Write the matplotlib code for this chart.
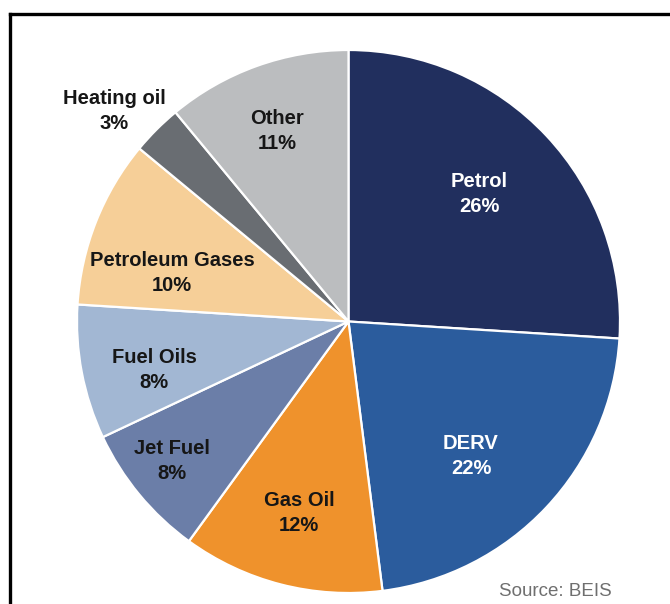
import matplotlib
matplotlib.use("Agg")
import matplotlib.pyplot as plt
from matplotlib.lines import Line2D

# Share of UK oil product demand by product (%)
categories = ["Petrol", "DERV", "Gas Oil", "Jet Fuel", "Fuel Oils",
              "Petroleum Gases", "Heating oil", "Other"]
shares = [26, 22, 12, 8, 8, 10, 3, 11]
colors = ["#212f5e", "#2b5c9d", "#ef922c", "#6b7ea8", "#a2b7d3",
          "#f6cf98", "#696d72", "#bbbdbf"]
text_colors = ["white", "white", "#161616", "#161616", "#161616",
               "#161616", "#161616", "#161616"]
# label centres in pixel coordinates (x from left, y from top)
label_xy = [(479, 194), (471, 456), (299, 513), (172, 461), (154, 370),
            (172, 273), (114, 111), (277, 131)]

W, H = 670, 604
fig = plt.figure(figsize=(W / 100, H / 100), dpi=100)
fig.patch.set_facecolor("white")
ax = fig.add_axes([0, 0, 1, 1])

cx, cy, r = 348.5, 321.5, 271.5
ax.pie(shares, colors=colors, startangle=90, counterclock=False,
       center=(cx, H - cy), radius=r, frame=True,
       wedgeprops=dict(edgecolor="white", linewidth=1.6))
ax.set_xlim(0, W)
ax.set_ylim(0, H)
ax.set_aspect("equal")
ax.axis("off")

for name, val, (x, y), tc in zip(categories, shares, label_xy, text_colors):
    ax.text(x, H - y, f"{name}\n{val}%", ha="center", va="center",
            fontsize=14.5, fontweight="bold", color=tc,
            family="Liberation Sans", linespacing=1.38)

ax.text(555, H - 591, "Source: BEIS", ha="center", va="center",
        fontsize=13.5, color="#6f6f6f", family="Liberation Sans")

# outer frame (top and left edges)
fig.add_artist(Line2D([9.5 / W, 1.0], [1 - 13.5 / H, 1 - 13.5 / H],
                      transform=fig.transFigure, color="black", lw=2.4,
                      solid_capstyle="projecting"))
fig.add_artist(Line2D([9.5 / W, 9.5 / W], [0.0, 1 - 13.5 / H],
                      transform=fig.transFigure, color="black", lw=2.4,
                      solid_capstyle="projecting"))

fig.savefig("out.png", dpi=100, facecolor="white")
